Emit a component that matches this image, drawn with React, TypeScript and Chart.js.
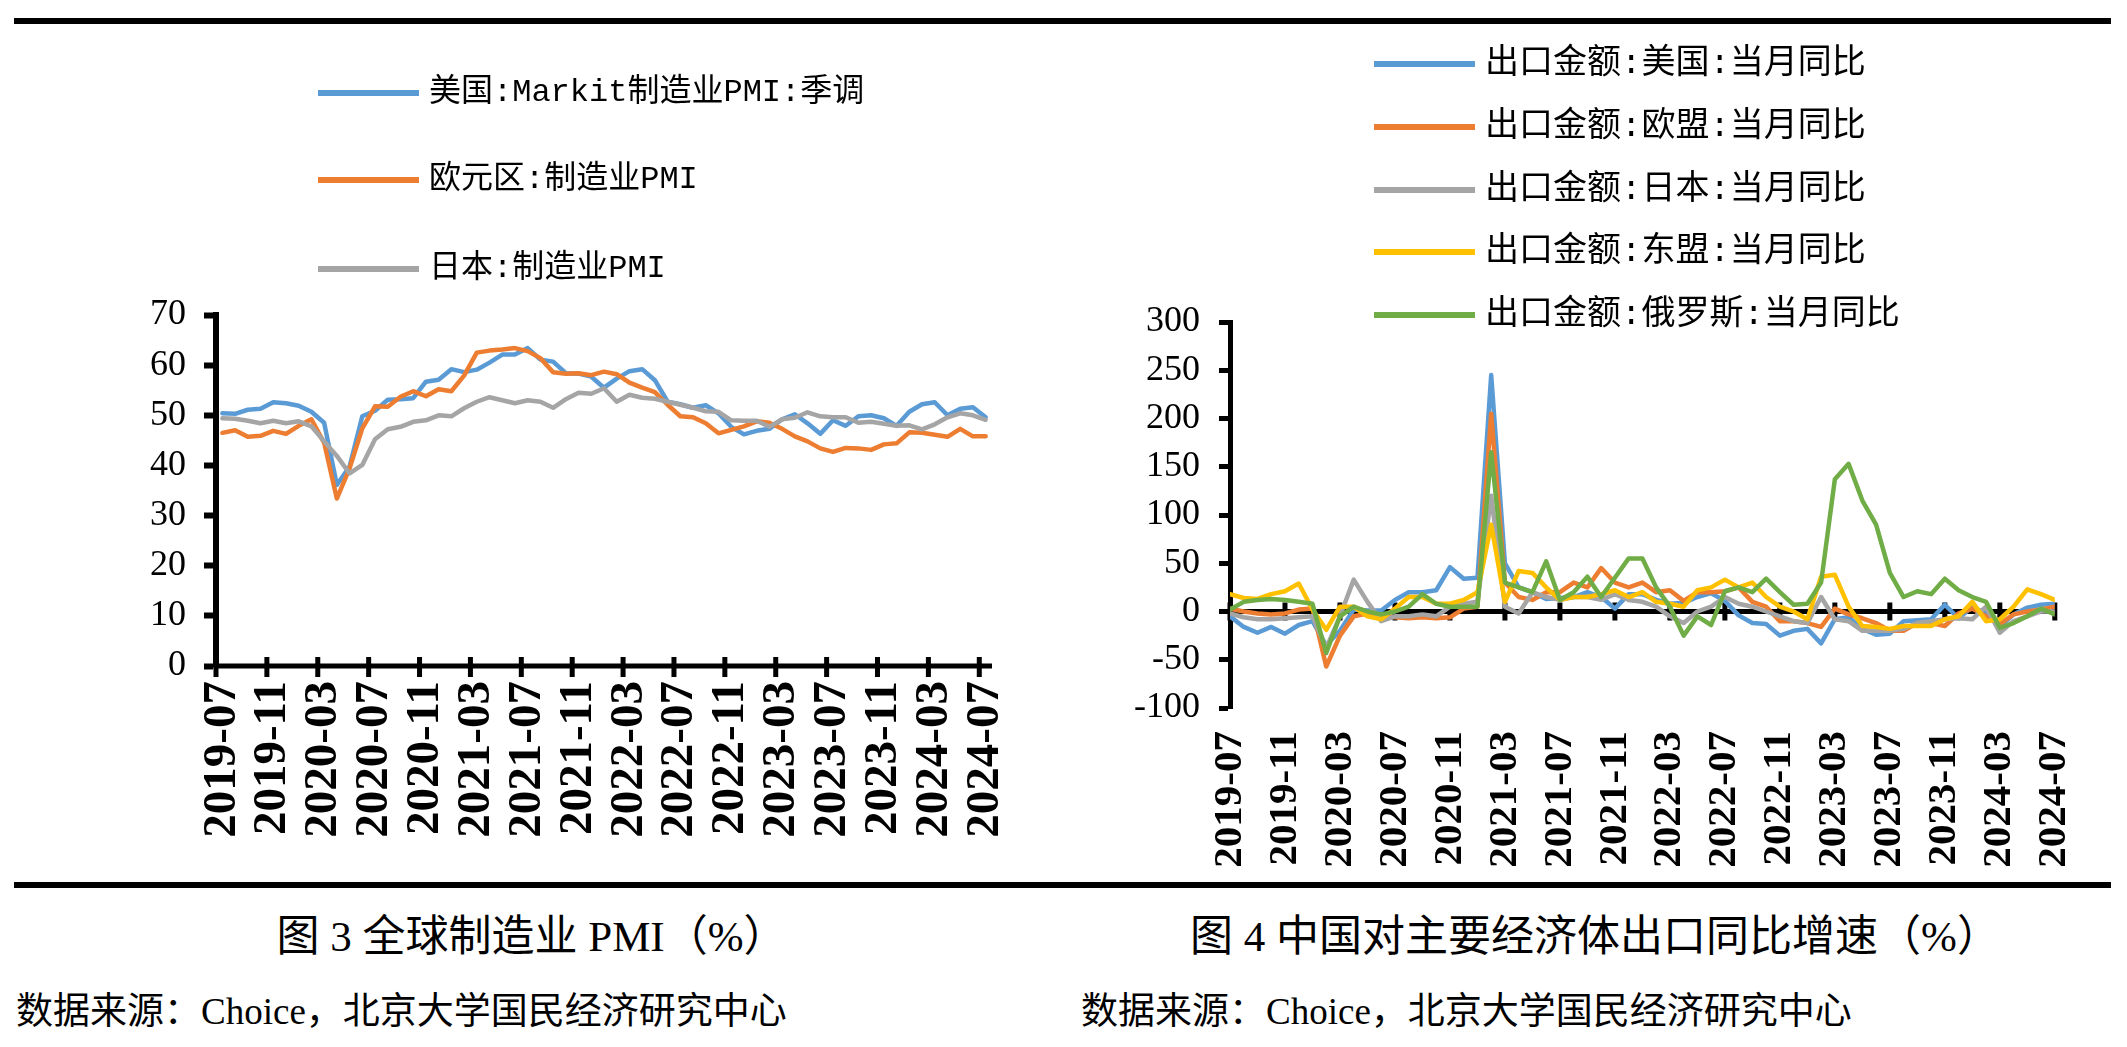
import React, { useEffect, useRef } from 'react';
import { Chart, registerables } from 'chart.js';

Chart.register(...registerables);

// Monthly categories, 2019-07 .. 2024-07
const months = [
  '2019-07', '2019-08', '2019-09', '2019-10', '2019-11', '2019-12',
  '2020-01', '2020-02', '2020-03', '2020-04', '2020-05', '2020-06',
  '2020-07', '2020-08', '2020-09', '2020-10', '2020-11', '2020-12',
  '2021-01', '2021-02', '2021-03', '2021-04', '2021-05', '2021-06',
  '2021-07', '2021-08', '2021-09', '2021-10', '2021-11', '2021-12',
  '2022-01', '2022-02', '2022-03', '2022-04', '2022-05', '2022-06',
  '2022-07', '2022-08', '2022-09', '2022-10', '2022-11', '2022-12',
  '2023-01', '2023-02', '2023-03', '2023-04', '2023-05', '2023-06',
  '2023-07', '2023-08', '2023-09', '2023-10', '2023-11', '2023-12',
  '2024-01', '2024-02', '2024-03', '2024-04', '2024-05', '2024-06',
  '2024-07',
];

// Months that carry an axis label
const labelledMonths = [
  '2019-07', '2019-11', '2020-03', '2020-07', '2020-11', '2021-03', '2021-07', '2021-11',
  '2022-03', '2022-07', '2022-11', '2023-03', '2023-07', '2023-11', '2024-03', '2024-07',
];

// 图3: manufacturing PMI
const usPmi = [
  50.4, 50.3, 51.1, 51.3, 52.6, 52.4,
  51.9, 50.7, 48.5, 36.1, 39.8, 49.8, 50.9, 53.1, 53.2, 53.4, 56.7, 57.1,
  59.2, 58.6, 59.1, 60.5, 62.1, 62.1, 63.4, 61.1, 60.7, 58.4, 58.3, 57.7,
  55.5, 57.3, 58.8, 59.2, 57.0, 52.7, 52.2, 51.5, 52.0, 50.4, 47.7, 46.2,
  46.9, 47.3, 49.2, 50.2, 48.4, 46.3, 49.0, 47.9, 49.8, 50.0, 49.4, 47.9,
  50.7, 52.2, 52.6, 50.0, 51.3, 51.6, 49.6,
];
const euroPmi = [
  46.5, 47.0, 45.7, 45.9, 46.9, 46.3,
  47.9, 49.2, 44.5, 33.4, 39.4, 47.4, 51.8, 51.7, 53.7, 54.8, 53.8, 55.2,
  54.8, 57.9, 62.5, 62.9, 63.1, 63.4, 62.8, 61.4, 58.6, 58.3, 58.4, 58.0,
  58.7, 58.2, 56.5, 55.5, 54.6, 52.1, 49.8, 49.6, 48.4, 46.4, 47.1, 47.8,
  48.8, 48.5, 47.3, 45.8, 44.8, 43.4, 42.7, 43.5, 43.4, 43.1, 44.2, 44.4,
  46.6, 46.5, 46.1, 45.7, 47.3, 45.8, 45.8,
];
const japanPmi = [
  49.4, 49.3, 48.9, 48.4, 48.9, 48.4,
  48.8, 47.8, 44.8, 41.9, 38.4, 40.1, 45.2, 47.2, 47.7, 48.7, 49.0, 50.0,
  49.8, 51.4, 52.7, 53.6, 53.0, 52.4, 53.0, 52.7, 51.5, 53.2, 54.5, 54.3,
  55.4, 52.7, 54.1, 53.5, 53.3, 52.7, 52.1, 51.5, 50.8, 50.7, 49.0, 48.9,
  48.9, 47.7, 49.2, 49.5, 50.6, 49.8, 49.6, 49.6, 48.5, 48.7, 48.3, 47.9,
  48.0, 47.2, 48.2, 49.6, 50.4, 50.0, 49.1,
];

// 图4: China export growth by destination, % y/y
const usExport = [
  -5, -16, -22, -16, -23, -14,
  -10, -35, -20, 2, 1, 1, 12, 20, 20, 22, 46, 34,
  35, 245, 50, 25, 20, 13, 14, 15, 20, 15, 3, 18,
  18, 12, 8, 9, 15, 19, 11, -4, -12, -13, -25, -20,
  -18, -33, -8, -6, -18, -24, -23, -10, -9, -8, 7, -7,
  5, -2, -16, -3, 4, 7, 8,
];
const euExport = [
  3, 0, -2, -3, -2, 2,
  3, -57, -25, -5, -2, -4, -6, -7, -6, -7, -6, 3,
  5, 205, 30, 15, 12, 20, 20, 30, 25, 45, 30, 25,
  30, 20, 22, 11, 20, 20, 21, 25, 10, 5, -10, -10,
  -12, -16, 3, -3, -7, -12, -20, -20, -12, -12, -15, -2,
  3, -5, -13, -3, 0, 2, 5,
];
const japanExport = [
  -2, -6, -8, -8, -7, -6,
  -5, -38, -5, 33, 10, -10, -5, -5, -3, -5, 5, 8,
  10, 120, 5, -2, 20, 15, 12, 15, 15, 12, 18, 12,
  10, 5, -5, -12, 0, 5, 15, 8, 5, 0, -5, -10,
  -12, 15, -8, -10, -20, -20, -20, -18, -12, -10, -8, -7,
  -8, 5, -22, -10, -5, 0, 0,
];
const aseanExport = [
  18, 14, 13, 18, 21, 29,
  2, -19, 5, 5, -5, -8, 3, 15, 15, 8, 8, 12,
  20, 90, 10, 42, 40, 25, 12, 15, 15, 18, 22, 15,
  20, 10, 8, 5, 22, 25, 33, 25, 30, 15, 5, 0,
  -8, 36, 38, 5, -15, -16, -18, -15, -15, -15, -8, -5,
  10, -10, -8, 5, 23, 18, 12,
];
const russiaExport = [
  2, 10, 12, 13, 12, 10,
  8, -43, -5, 5, 0, -3, 0, 5, 18, 8, 5, 5,
  5, 165, 30, 25, 20, 52, 12, 20, 36, 15, 35, 55,
  55, 25, 5, -25, -5, -14, 21, 25, 20, 34, 20, 7,
  8, 30, 137, 153, 115, 90, 40, 15, 21, 18, 34, 22,
  15, 10, -17, -12, -5, 3, -3,
];

const BLUE = '#5B9BD5';
const ORANGE = '#ED7D31';
const GRAY = '#A5A5A5';
const YELLOW = '#FFC000';
const GREEN = '#70AD47';

const pmiSeries = [
  { name: '美国:Markit制造业PMI:季调', color: BLUE, values: usPmi },
  { name: '欧元区:制造业PMI', color: ORANGE, values: euroPmi },
  { name: '日本:制造业PMI', color: GRAY, values: japanPmi },
];

const exportSeries = [
  { name: '出口金额:美国:当月同比', color: BLUE, values: usExport },
  { name: '出口金额:欧盟:当月同比', color: ORANGE, values: euExport },
  { name: '出口金额:日本:当月同比', color: GRAY, values: japanExport },
  { name: '出口金额:东盟:当月同比', color: YELLOW, values: aseanExport },
  { name: '出口金额:俄罗斯:当月同比', color: GREEN, values: russiaExport },
];

const SERIF = "'Liberation Serif', 'Times New Roman', serif";
const CJK_SERIF = "'Liberation Serif', 'Noto Sans CJK SC', serif";
const LEGEND_FONT = "'Liberation Mono', 'Noto Sans CJK SC', monospace";

const labelIndex = labelledMonths.map((m) => months.indexOf(m));

// Black horizontal axis at value 0 with tick marks crossing it
function makeAxisMarks(marks: number[], up: number, down: number, width: number) {
  return {
    id: 'axisMarks',
    beforeDatasetsDraw(chart: any) {
      const { ctx, chartArea, scales } = chart;
      const y0 = scales.y.getPixelForValue(0);
      ctx.save();
      ctx.strokeStyle = '#000';
      ctx.lineCap = 'butt';
      ctx.lineWidth = width;
      ctx.beginPath();
      ctx.moveTo(chartArea.left - width / 2, y0);
      ctx.lineTo(chartArea.right, y0);
      ctx.stroke();
      ctx.beginPath();
      for (const v of marks) {
        const px = scales.x.getPixelForValue(v);
        ctx.moveTo(px, y0 - up);
        ctx.lineTo(px, y0 + down);
      }
      ctx.stroke();
      ctx.restore();
    },
  };
}

function buildDatasets(series: { name: string; color: string; values: number[] }[]) {
  return series.map((s, k) => ({
    label: s.name,
    data: s.values.map((v, i) => ({ x: i, y: v })),
    borderColor: s.color,
    backgroundColor: s.color,
    borderWidth: 4.5,
    pointRadius: 0,
    tension: 0,
    borderJoinStyle: 'round',
    borderCapStyle: 'round',
    order: series.length - 1 - k,
  }));
}

function pmiConfig(): any {
  return {
    type: 'line',
    data: { datasets: buildDatasets(pmiSeries) },
    options: {
      animation: false,
      responsive: false,
      devicePixelRatio: 1,
      events: [],
      layout: { padding: { left: 0, top: 315, right: 71, bottom: 14 } },
      plugins: { legend: { display: false }, tooltip: { enabled: false } },
      scales: {
        x: {
          type: 'linear',
          min: -0.5,
          max: months.length - 0.5,
          afterBuildTicks: (s: any) => {
            s.ticks = labelIndex.map((v) => ({ value: v }));
          },
          afterFit: (s: any) => {
            s.height = 200;
          },
          grid: { display: false, drawTicks: false },
          border: { display: false },
          ticks: {
            autoSkip: false,
            minRotation: 90,
            maxRotation: 90,
            padding: 15,
            color: '#000',
            font: { family: SERIF, size: 47, weight: 'bold' },
            callback: (v: number) => months[v] ?? '',
          },
        },
        y: {
          min: 0,
          max: 70,
          afterFit: (s: any) => {
            s.width = 216;
          },
          ticks: { stepSize: 10, padding: 18, color: '#000', font: { family: SERIF, size: 36 } },
          grid: { drawOnChartArea: false, drawTicks: true, tickLength: 12, tickWidth: 6, tickColor: '#000' },
          border: { display: true, color: '#000', width: 6 },
        },
      },
    },
    plugins: [makeAxisMarks(labelIndex.map((i) => i - 0.5), 9, 11, 5)],
  };
}

function exportConfig(): any {
  return {
    type: 'line',
    data: { datasets: buildDatasets(exportSeries) },
    options: {
      animation: false,
      responsive: false,
      devicePixelRatio: 1,
      events: [],
      layout: { padding: { left: 0, top: 322, right: 68, bottom: 12 } },
      plugins: { legend: { display: false }, tooltip: { enabled: false } },
      scales: {
        x: {
          type: 'linear',
          min: 0,
          max: months.length - 1,
          afterBuildTicks: (s: any) => {
            s.ticks = labelIndex.map((v) => ({ value: v }));
          },
          afterFit: (s: any) => {
            s.height = 160;
          },
          grid: { display: false, drawTicks: false },
          border: { display: false },
          ticks: {
            autoSkip: false,
            minRotation: 90,
            maxRotation: 90,
            padding: 23,
            color: '#000',
            font: { family: SERIF, size: 41, weight: 'bold' },
            callback: (v: number) => months[v] ?? '',
          },
        },
        y: {
          min: -100,
          max: 300,
          afterFit: (s: any) => {
            s.width = 167;
          },
          ticks: { stepSize: 50, padding: 19, color: '#000', font: { family: SERIF, size: 36 } },
          grid: { drawOnChartArea: false, drawTicks: true, tickLength: 11, tickWidth: 5, tickColor: '#000' },
          border: { display: true, color: '#000', width: 5 },
        },
      },
    },
    plugins: [makeAxisMarks(labelIndex, 9, 9, 5)],
  };
}

function ChartCanvas({ left, width, height, build }: { left: number; width: number; height: number; build: () => any }) {
  const ref = useRef<HTMLCanvasElement>(null);
  useEffect(() => {
    if (!ref.current) return;
    const chart = new Chart(ref.current, build());
    return () => chart.destroy();
  }, [build]);
  return (
    <canvas
      ref={ref}
      width={width}
      height={height}
      style={{ position: 'absolute', left, top: 0, width, height }}
    />
  );
}

function Legend({
  series,
  rows,
  lineX,
  textX,
  fontSize,
}: {
  series: { name: string; color: string }[];
  rows: number[];
  lineX: number;
  textX: number;
  fontSize: number;
}) {
  return (
    <>
      {series.map((s, i) => (
        <React.Fragment key={s.name}>
          <div
            style={{
              position: 'absolute',
              left: lineX,
              top: rows[i] - 3,
              width: 101,
              height: 6,
              background: s.color,
            }}
          />
          <div
            style={{
              position: 'absolute',
              left: textX,
              top: rows[i] - fontSize * 0.75,
              height: fontSize * 1.5,
              lineHeight: `${fontSize * 1.5}px`,
              fontFamily: LEGEND_FONT,
              fontSize,
              color: '#000',
              whiteSpace: 'nowrap',
            }}
          >
            {s.name}
          </div>
        </React.Fragment>
      ))}
    </>
  );
}

function TextLine({
  text,
  left,
  width,
  cy,
  size,
  align,
}: {
  text: string;
  left: number;
  width?: number;
  cy: number;
  size: number;
  align: 'left' | 'center';
}) {
  return (
    <div
      style={{
        position: 'absolute',
        left,
        width,
        top: cy - size * 0.75,
        height: size * 1.5,
        lineHeight: `${size * 1.5}px`,
        fontFamily: CJK_SERIF,
        fontSize: size,
        textAlign: align,
        color: '#000',
        whiteSpace: 'nowrap',
      }}
    >
      {text}
    </div>
  );
}

export default function App() {
  return (
    <div
      style={{
        position: 'absolute',
        left: 0,
        top: 0,
        width: 2127,
        height: 1047,
        background: '#fff',
        overflow: 'hidden',
      }}
    >
      <div style={{ position: 'absolute', left: 14, top: 18, width: 2097, height: 6, background: '#000' }} />
      <ChartCanvas left={0} width={1063} height={880} build={pmiConfig} />
      <ChartCanvas left={1063} width={1064} height={880} build={exportConfig} />
      <Legend series={pmiSeries} rows={[93, 180, 269]} lineX={318} textX={429} fontSize={32} />
      <Legend series={exportSeries} rows={[64, 127, 190, 252, 315]} lineX={1374} textX={1485} fontSize={34} />
      <div style={{ position: 'absolute', left: 14, top: 882, width: 2097, height: 6, background: '#000' }} />
      <TextLine text="图 3 全球制造业 PMI（%）" left={0} width={1063} cy={937} size={43} align="center" />
      <TextLine text="图 4 中国对主要经济体出口同比增速（%）" left={1063} width={1064} cy={937} size={43} align="center" />
      <TextLine text="数据来源：Choice，北京大学国民经济研究中心" left={16} cy={1012} size={37} align="left" />
      <TextLine text="数据来源：Choice，北京大学国民经济研究中心" left={1081} cy={1012} size={37} align="left" />
    </div>
  );
}
